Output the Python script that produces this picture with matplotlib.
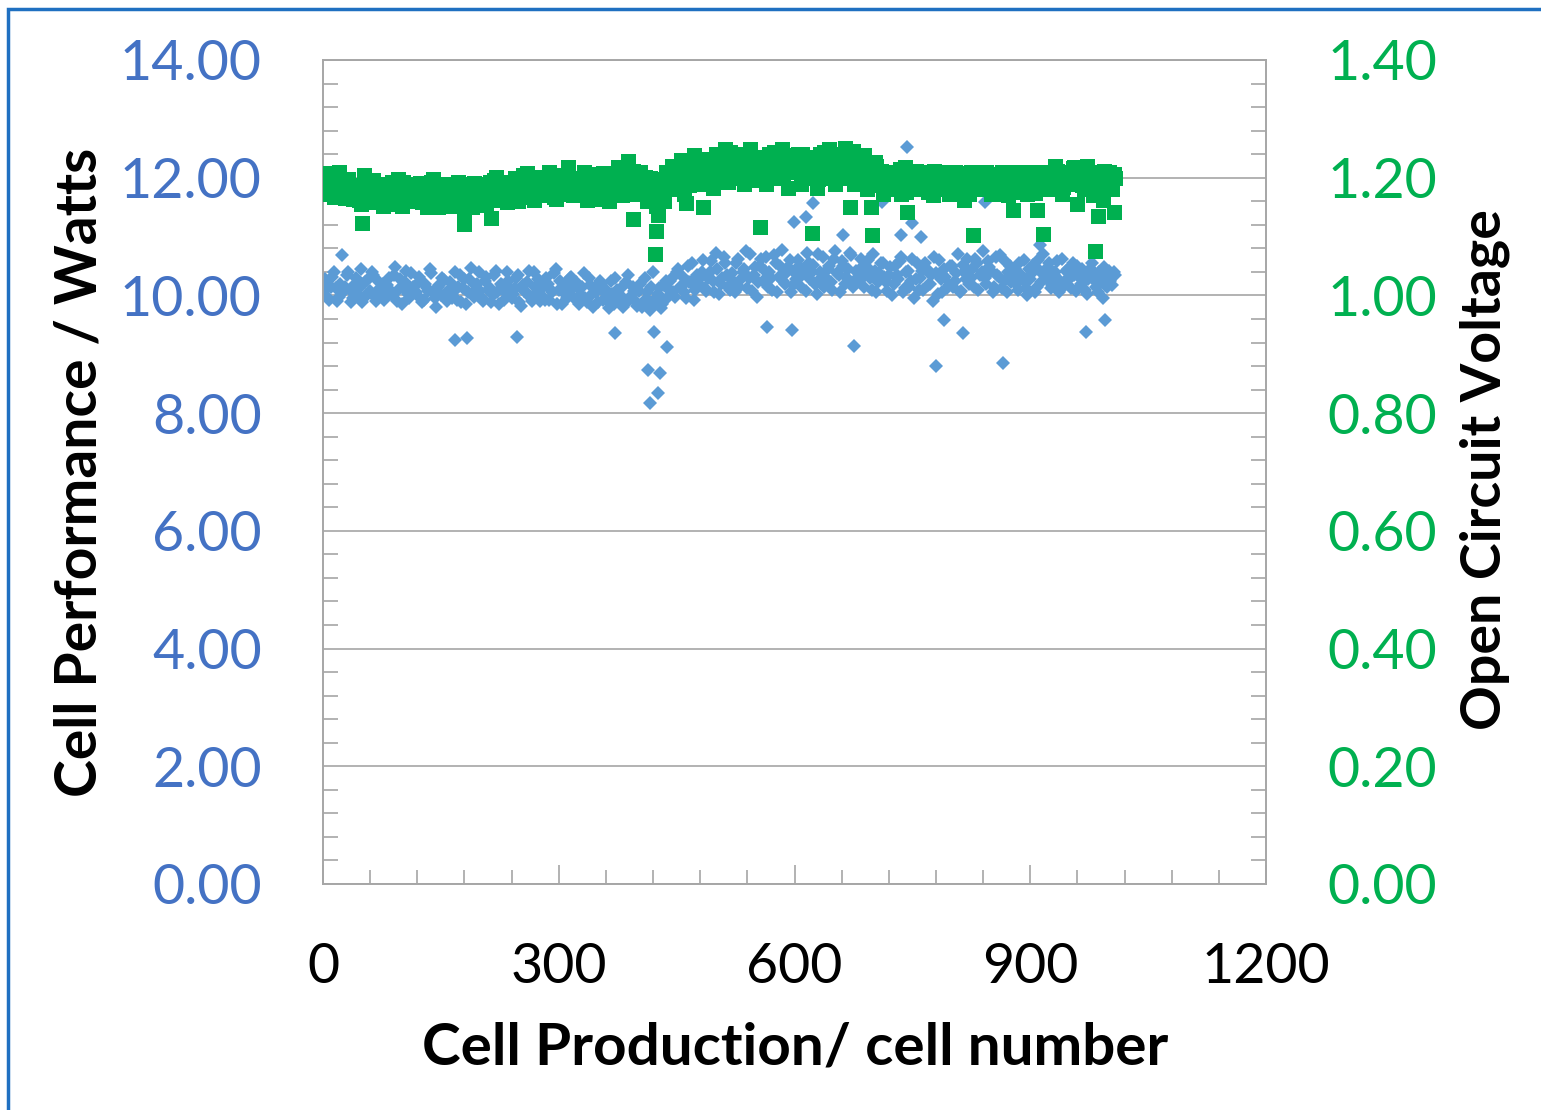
import numpy as np
import matplotlib
matplotlib.use("Agg")
import matplotlib.pyplot as plt
from matplotlib.ticker import MultipleLocator, FixedLocator
from matplotlib.patches import Rectangle

# ---------------- data ----------------
# main band, set A: one reading every 4 cells (cell 0, 4, 8, ... 1008)
power_w_a = [
    10.05, 10.22, 9.92, 10.31, 10.12, 9.98, 10.68, 10.15, 10.40, 9.88,
    10.18, 10.02, 10.45, 9.95, 10.26, 10.08, 10.35, 9.90, 10.12, 10.20,
    9.97, 10.30, 10.05, 10.48, 10.10, 9.85, 10.22, 10.02, 10.38, 10.14,
    10.00, 10.25, 9.92, 10.12, 10.45, 10.06, 9.80, 10.18, 10.30, 10.04,
    10.10, 9.95, 10.40, 10.15, 9.88, 10.28, 10.05, 10.46, 9.98, 10.20,
    10.08, 9.90, 10.32, 10.12, 10.00, 10.42, 9.85, 10.18, 10.05, 10.25,
    9.95, 10.12, 10.35, 9.82, 10.08, 10.22, 9.98, 10.40, 10.05, 9.90,
    10.15, 10.30, 9.92, 10.05, 10.45, 10.10, 9.85, 10.20, 10.02, 10.32,
    9.95, 10.12, 10.00, 10.38, 9.88, 10.18, 9.80, 10.05, 10.25, 9.92,
    10.10, 9.78, 10.02, 10.30, 9.90, 10.15, 9.85, 10.35, 9.98, 10.08,
    9.82, 10.20, 9.90, 10.05, 9.75, 10.40, 9.95, 10.12, 9.85, 10.25,
    10.10, 10.30, 9.98, 10.45, 10.15, 10.05, 10.50, 10.22, 9.92, 10.35,
    10.18, 10.60, 10.08, 10.40, 10.25, 10.72, 10.02, 10.30, 10.55, 10.15,
    10.38, 10.05, 10.62, 10.28, 10.45, 10.12, 10.70, 10.35, 9.98, 10.50,
    10.25, 10.65, 10.40, 10.10, 10.55, 10.32, 10.78, 10.20, 10.48, 10.05,
    10.38, 10.60, 10.15, 10.45, 10.72, 10.28, 10.52, 10.02, 10.40, 10.65,
    10.30, 10.50, 10.10, 10.75, 10.35, 10.58, 10.20, 10.45, 10.68, 10.25,
    10.40, 10.62, 10.15, 10.48, 10.30, 10.70, 10.05, 10.38, 10.55, 10.22,
    10.35, 10.00, 10.50, 10.28, 10.65, 10.12, 10.42, 10.25, 9.95, 10.55,
    10.30, 10.10, 10.45, 10.20, 9.90, 10.38, 10.60, 10.05, 10.32, 10.18,
    10.50, 10.25, 10.70, 10.08, 10.40, 10.62, 10.30, 10.15, 10.55, 10.35,
    10.75, 10.20, 10.48, 10.05, 10.65, 10.32, 10.12, 10.58, 10.40, 10.22,
    10.45, 10.10, 10.35, 10.60, 10.00, 10.28, 10.52, 10.15, 10.42, 10.70,
    10.30, 10.55, 10.18, 10.40, 10.05, 10.62, 10.25, 10.45, 10.12, 10.35,
    10.50, 10.20, 10.38, 10.02, 10.45, 10.28, 10.15, 10.40, 9.95, 10.30,
    10.42, 10.18, 10.35,
]
# set B: the cells in between (cell 2, 6, 10, ... 1006)
power_w_b = [
    10.28, 9.95, 10.15, 10.40, 9.90, 10.20, 10.05, 10.35, 10.10, 9.95,
    10.30, 10.12, 9.88, 10.22, 10.05, 10.40, 9.98, 10.25, 10.08, 9.92,
    10.18, 10.02, 10.35, 9.90, 10.28, 10.12, 10.42, 9.95, 10.15, 10.05,
    10.32, 9.88, 10.20, 10.08, 10.38, 9.95, 10.15, 10.00, 10.26, 9.90,
    10.22, 10.05, 9.92, 10.35, 10.12, 9.85, 10.28, 10.02, 10.18, 10.40,
    9.95, 10.25, 10.10, 9.88, 10.35, 10.05, 10.20, 9.92, 10.40, 10.12,
    10.02, 10.30, 9.88, 10.18, 10.05, 10.42, 9.90, 10.15, 10.28, 10.00,
    9.92, 10.20, 10.10, 10.38, 9.85, 10.25, 10.05, 9.95, 10.30, 10.12,
    10.22, 9.85, 10.15, 9.95, 10.30, 10.02, 10.12, 9.88, 10.20, 10.05,
    9.92, 10.25, 9.85, 10.10, 10.00, 9.80, 10.22, 9.95, 10.15, 9.88,
    10.08, 9.80, 10.30, 9.92, 10.15, 9.85, 10.02, 9.78, 10.18, 9.95,
    10.25, 10.05, 10.40, 10.15, 10.32, 9.95, 10.22, 10.55, 10.10, 10.28,
    10.40, 10.12, 10.30, 10.58, 10.05, 10.45, 10.20, 10.65, 10.35, 10.10,
    10.25, 10.55, 10.15, 10.40, 10.75, 10.30, 10.08, 10.48, 10.22, 10.62,
    10.42, 10.15, 10.30, 10.68, 10.05, 10.50, 10.25, 10.40, 10.60, 10.18,
    10.28, 10.50, 10.35, 10.08, 10.55, 10.40, 10.20, 10.70, 10.30, 10.15,
    10.45, 10.22, 10.62, 10.38, 10.05, 10.50, 10.32, 10.72, 10.15, 10.42,
    10.25, 10.48, 10.35, 10.60, 10.10, 10.42, 10.22, 10.55, 10.32, 10.08,
    10.48, 10.20, 10.35, 10.58, 10.05, 10.40, 10.15, 10.62, 10.28, 10.10,
    10.42, 10.55, 10.18, 10.35, 10.65, 10.02, 10.28, 10.45, 10.12, 10.50,
    10.15, 10.38, 10.05, 10.52, 10.28, 10.20, 10.45, 10.62, 10.10, 10.40,
    10.30, 10.58, 10.42, 10.15, 10.35, 10.68, 10.25, 10.05, 10.50, 10.32,
    10.20, 10.55, 10.28, 10.12, 10.45, 10.38, 10.05, 10.60, 10.22, 10.35,
    10.48, 10.12, 10.35, 10.58, 10.25, 10.15, 10.42, 10.30, 10.55, 10.08,
    10.32, 10.45, 10.10, 10.28, 10.55, 10.38, 10.05, 10.22, 10.48, 10.15,
    10.25, 10.40,
]
voc_v_a = [
    1.192, 1.208, 1.172, 1.201, 1.183, 1.210, 1.188, 1.165, 1.198, 1.178,
    1.170, 1.188, 1.155, 1.205, 1.180, 1.162, 1.196, 1.172, 1.190, 1.152,
    1.181, 1.160, 1.192, 1.170, 1.198, 1.152, 1.182, 1.163, 1.190, 1.171,
    1.162, 1.191, 1.170, 1.150, 1.181, 1.198, 1.160, 1.183, 1.172, 1.190,
    1.152, 1.182, 1.161, 1.193, 1.172, 1.145, 1.180, 1.160, 1.191, 1.170,
    1.160, 1.182, 1.153, 1.192, 1.171, 1.201, 1.162, 1.182, 1.193, 1.170,
    1.182, 1.200, 1.161, 1.192, 1.172, 1.208, 1.183, 1.162, 1.201, 1.181,
    1.192, 1.171, 1.210, 1.182, 1.163, 1.200, 1.190, 1.172, 1.218, 1.181,
    1.172, 1.200, 1.181, 1.210, 1.162, 1.191, 1.180, 1.202, 1.171, 1.208,
    1.190, 1.160, 1.200, 1.181, 1.218, 1.170, 1.192, 1.228, 1.180, 1.201,
    1.172, 1.210, 1.190, 1.160, 1.200, 1.182, 1.152, 1.191, 1.170, 1.210,
    1.192, 1.220, 1.181, 1.202, 1.230, 1.172, 1.212, 1.190, 1.238, 1.201,
    1.220, 1.190, 1.230, 1.210, 1.182, 1.240, 1.200, 1.221, 1.248, 1.192,
    1.230, 1.210, 1.200, 1.240, 1.190, 1.220, 1.248, 1.210, 1.232, 1.200,
    1.222, 1.190, 1.240, 1.210, 1.230, 1.200, 1.248, 1.220, 1.182, 1.232,
    1.210, 1.240, 1.190, 1.222, 1.200, 1.230, 1.212, 1.182, 1.240, 1.220,
    1.200, 1.248, 1.222, 1.190, 1.240, 1.210, 1.250, 1.200, 1.232, 1.190,
    1.220, 1.200, 1.238, 1.180, 1.210, 1.190, 1.220, 1.200, 1.172, 1.210,
    1.190, 1.210, 1.180, 1.200, 1.172, 1.218, 1.190, 1.202, 1.180, 1.210,
    1.200, 1.180, 1.210, 1.190, 1.170, 1.200, 1.182, 1.210, 1.190, 1.172,
    1.190, 1.210, 1.180, 1.200, 1.162, 1.190, 1.210, 1.182, 1.200, 1.190,
    1.180, 1.210, 1.190, 1.172, 1.200, 1.182, 1.210, 1.190, 1.170, 1.200,
    1.190, 1.210, 1.180, 1.200, 1.172, 1.190, 1.210, 1.182, 1.200, 1.190,
    1.210, 1.180, 1.200, 1.220, 1.190, 1.172, 1.210, 1.190, 1.200, 1.218,
    1.190, 1.210, 1.180, 1.220, 1.200, 1.170, 1.210, 1.190, 1.162, 1.200,
    1.210, 1.180, 1.200,
]
voc_v_b = [
    1.200, 1.178, 1.192, 1.168, 1.205, 1.185, 1.172, 1.196, 1.180, 1.164,
    1.186, 1.162, 1.178, 1.194, 1.158, 1.176, 1.190, 1.166, 1.182, 1.172,
    1.168, 1.188, 1.174, 1.156, 1.180, 1.192, 1.168, 1.178, 1.160, 1.186,
    1.176, 1.158, 1.184, 1.166, 1.192, 1.172, 1.150, 1.178, 1.188, 1.164,
    1.180, 1.168, 1.156, 1.186, 1.174, 1.160, 1.190, 1.150, 1.176, 1.184,
    1.174, 1.190, 1.166, 1.180, 1.196, 1.162, 1.184, 1.172, 1.158, 1.188,
    1.192, 1.174, 1.186, 1.204, 1.168, 1.190, 1.178, 1.196, 1.172, 1.188,
    1.178, 1.196, 1.186, 1.168, 1.192, 1.204, 1.176, 1.188, 1.196, 1.170,
    1.192, 1.176, 1.198, 1.186, 1.206, 1.172, 1.194, 1.182, 1.164, 1.196,
    1.180, 1.204, 1.172, 1.192, 1.186, 1.208, 1.176, 1.196, 1.212, 1.186,
    1.196, 1.178, 1.202, 1.184, 1.166, 1.198, 1.188, 1.174, 1.160, 1.192,
    1.208, 1.186, 1.214, 1.196, 1.222, 1.204, 1.188, 1.226, 1.212, 1.196,
    1.206, 1.232, 1.214, 1.198, 1.228, 1.216, 1.238, 1.204, 1.226, 1.244,
    1.212, 1.238, 1.224, 1.206, 1.232, 1.216, 1.196, 1.236, 1.224, 1.212,
    1.236, 1.206, 1.226, 1.244, 1.214, 1.232, 1.200, 1.238, 1.222, 1.210,
    1.232, 1.214, 1.240, 1.204, 1.226, 1.212, 1.236, 1.198, 1.224, 1.244,
    1.214, 1.232, 1.208, 1.240, 1.226, 1.212, 1.236, 1.218, 1.246, 1.204,
    1.210, 1.230, 1.196, 1.216, 1.204, 1.226, 1.188, 1.212, 1.198, 1.186,
    1.206, 1.184, 1.200, 1.214, 1.190, 1.176, 1.204, 1.194, 1.212, 1.182,
    1.190, 1.206, 1.176, 1.198, 1.212, 1.186, 1.196, 1.180, 1.204, 1.192,
    1.178, 1.198, 1.208, 1.184, 1.194, 1.172, 1.202, 1.188, 1.196, 1.180,
    1.200, 1.186, 1.172, 1.206, 1.192, 1.180, 1.198, 1.210, 1.184, 1.194,
    1.176, 1.202, 1.190, 1.208, 1.182, 1.196, 1.174, 1.200, 1.188, 1.206,
    1.192, 1.204, 1.186, 1.212, 1.198, 1.184, 1.208, 1.196, 1.216, 1.190,
    1.202, 1.188, 1.214, 1.196, 1.182, 1.208, 1.170, 1.196, 1.212, 1.184,
    1.196, 1.206,
]
# isolated readings away from the band
power_out_cell = [168, 183, 247, 371, 413, 416, 421, 426, 429, 438, 565, 597,
                  676, 780, 790, 814, 865, 971, 995, 743, 623, 599, 615, 749,
                  662, 711, 842, 735, 761, 912]
power_out_w = [9.24, 9.28, 9.29, 9.36, 8.73, 8.17, 9.38, 8.34, 8.68, 9.12, 9.46,
               9.41, 9.14, 8.80, 9.58, 9.36, 8.85, 9.38, 9.58, 12.52, 11.57,
               11.25, 11.33, 11.23, 11.03, 11.59, 11.59, 11.03, 10.99, 10.86]
voc_out_cell = [50, 180, 214, 395, 423, 424, 426, 462, 483, 556, 622, 670, 697,
                698, 743, 827, 878, 908, 916, 959, 982, 986, 1006]
voc_out_v = [1.123, 1.121, 1.131, 1.130, 1.070, 1.109, 1.137, 1.157, 1.150,
             1.116, 1.106, 1.150, 1.150, 1.103, 1.142, 1.103, 1.145, 1.145,
             1.104, 1.155, 1.075, 1.135, 1.142]

x_ticks = [0, 300, 600, 900, 1200]
y_left_ticks = [0, 2, 4, 6, 8, 10, 12, 14]
y_right_ticks = [0.0, 0.2, 0.4, 0.6, 0.8, 1.0, 1.2, 1.4]

# ---------------- styling ----------------
FONT = "Lato"
BLUE_TXT = "#4472C4"
GREEN = "#00B050"
BLUE_MK = "#5B9BD5"
GRID = "#A6A6A6"

cells_a = np.arange(len(power_w_a)) * 4
cells_b = np.arange(len(power_w_b)) * 4 + 2

fig = plt.figure(figsize=(15.41, 11.10), dpi=100)
ax = fig.add_axes([323 / 1541, 1 - 884 / 1110, (1266 - 323) / 1541, (884 - 60) / 1110])
ax2 = ax.twinx()

dkw = dict(linestyle="none", marker="D", ms=7.2, color=BLUE_MK,
           markeredgewidth=0, zorder=3)
skw = dict(linestyle="none", marker="s", ms=10.8, color=GREEN,
           markeredgewidth=0, zorder=3)
ax.plot(cells_a, power_w_a, **dkw)
ax.plot(cells_b, power_w_b, **dkw)
ax.plot(power_out_cell, power_out_w, **dkw)
ax2.plot(cells_a, voc_v_a, **skw)
ax2.plot(cells_b, voc_v_b, **skw)
ax2.plot(voc_out_cell, voc_out_v, **skw)

ax.set_xlim(0, 1200)
ax.set_ylim(0, 14)
ax2.set_ylim(0, 1.4)

ax.xaxis.set_major_locator(FixedLocator(x_ticks))
ax.xaxis.set_minor_locator(MultipleLocator(60))
ax.set_xticklabels([str(v) for v in x_ticks])
ax.yaxis.set_major_locator(FixedLocator(y_left_ticks))
ax.yaxis.set_minor_locator(MultipleLocator(0.4))
ax.set_yticklabels([f"{v:.2f}" for v in y_left_ticks])
ax2.yaxis.set_major_locator(FixedLocator(y_right_ticks))
ax2.yaxis.set_minor_locator(MultipleLocator(0.04))
ax2.set_yticklabels([f"{v:.2f}" for v in y_right_ticks])

ax.grid(axis="y", which="major", color=GRID, linewidth=1.2, zorder=0)
ax.set_axisbelow(True)

for a in (ax, ax2):
    for s in a.spines.values():
        s.set_color(GRID)
        s.set_linewidth(1.2)

ax.tick_params(axis="x", which="major", direction="in", length=14, width=1.2,
               color=GRID, pad=42, labelsize=40, labelcolor="black", top=False)
ax.tick_params(axis="x", which="minor", direction="in", length=10, width=1.2,
               color=GRID, top=False)
ax.tick_params(axis="y", which="major", direction="in", length=0, pad=44,
               labelsize=40, labelcolor=BLUE_TXT)
ax.tick_params(axis="y", which="minor", direction="in", length=11, width=1.2,
               color=GRID)
ax2.tick_params(axis="y", which="major", direction="in", length=0, pad=44,
                labelsize=40, labelcolor=GREEN)
ax2.tick_params(axis="y", which="minor", direction="in", length=11, width=1.2,
                color=GRID)

for lab in ax.get_xticklabels() + ax.get_yticklabels() + ax2.get_yticklabels():
    lab.set_fontfamily(FONT)

fig.text(795 / 1541, 1 - 1048 / 1110, "Cell Production/ cell number",
         ha="center", va="center", fontsize=42, fontweight="bold",
         family=FONT, color="black")
fig.text(80 / 1541, 1 - 472 / 1110, "Cell Performance / Watts",
         ha="center", va="center", rotation=90, fontsize=41,
         fontweight="bold", family=FONT, color="black")
fig.text(1485 / 1541, 1 - 470 / 1110, "Open Circuit Voltage",
         ha="center", va="center", rotation=90, fontsize=40,
         fontweight="bold", family=FONT, color="black")

# outer blue frame (only left and top edges fall inside the picture)
fig.patches.append(Rectangle((8 / 1541, -0.2), 1.5, 0.2 + (1110 - 9) / 1110,
                             transform=fig.transFigure, fill=False,
                             edgecolor="#1F70C1", linewidth=2.5))

fig.savefig("out.png", dpi=100, facecolor="white")
